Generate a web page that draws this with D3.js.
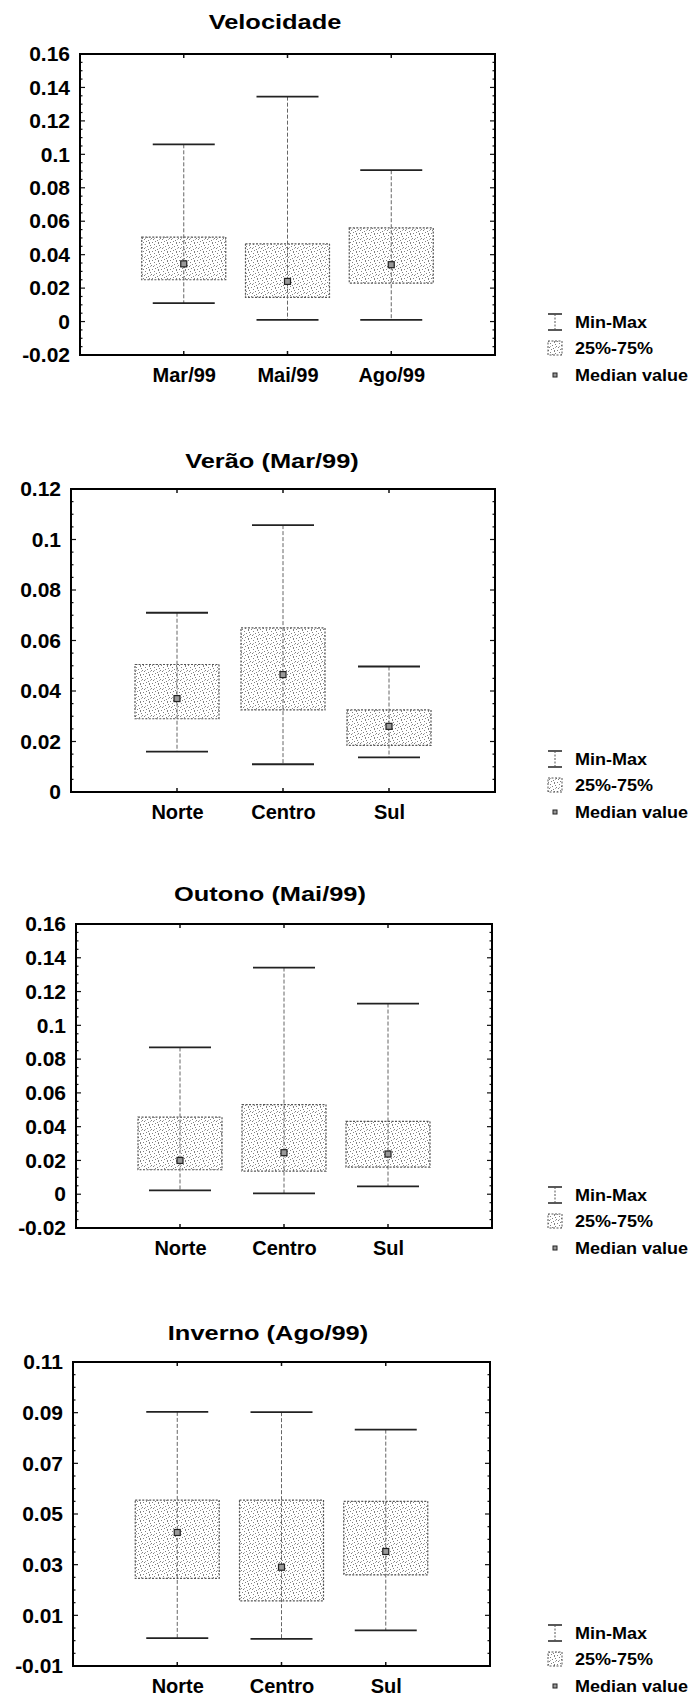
<!DOCTYPE html>
<html>
<head>
<meta charset="utf-8">
<script src="https://cdn.jsdelivr.net/npm/d3@7"></script>
<style>
  html, body { margin: 0; padding: 0; background: #fff; }
  svg { display: block; }
  text { font-family: Arial, "Liberation Sans", sans-serif; fill: #000; }
</style>
</head>
<body>
<svg id="chart" width="694" height="1696"></svg>
<script>
// ---- data ----
const seasonCats = ["Mar/99", "Mai/99", "Ago/99"];
const regionCats = ["Norte", "Centro", "Sul"];

// Velocidade (all stations, by campaign)
const velMin = [0.011, 0.001, 0.001];
const velQ1  = [0.025, 0.0145, 0.023];
const velMed = [0.0345, 0.024, 0.034];
const velQ3  = [0.0505, 0.0465, 0.056];
const velMax = [0.106, 0.1345, 0.0905];

// Verão (Mar/99)
const veraoMin = [0.016, 0.011, 0.0137];
const veraoQ1  = [0.029, 0.0325, 0.0185];
const veraoMed = [0.037, 0.0465, 0.026];
const veraoQ3  = [0.0505, 0.065, 0.0325];
const veraoMax = [0.071, 0.1057, 0.0497];

// Outono (Mai/99)
const outonoMin = [0.0023, 0.0005, 0.0046];
const outonoQ1  = [0.0145, 0.0137, 0.0161];
const outonoMed = [0.02, 0.0246, 0.0238];
const outonoQ3  = [0.0456, 0.0531, 0.0431];
const outonoMax = [0.0869, 0.1342, 0.1129];

// Inverno (Ago/99)
const invernoMin = [0.001, 0.0007, 0.0041];
const invernoQ1  = [0.0246, 0.0157, 0.026];
const invernoMed = [0.0427, 0.029, 0.0352];
const invernoQ3  = [0.0555, 0.0555, 0.055];
const invernoMax = [0.0903, 0.0902, 0.0833];

// y tick labels per panel
const ticksVel     = [-0.02, 0, 0.02, 0.04, 0.06, 0.08, 0.1, 0.12, 0.14, 0.16];
const ticksVerao   = [0, 0.02, 0.04, 0.06, 0.08, 0.1, 0.12];
const ticksOutono  = [-0.02, 0, 0.02, 0.04, 0.06, 0.08, 0.1, 0.12, 0.14, 0.16];
const ticksInverno = [-0.01, 0.01, 0.03, 0.05, 0.07, 0.09, 0.11];

const legendLabels = ["Min-Max", "25%-75%", "Median value"];

function rows(cats, mn, q1, md, q3, mx) {
  return cats.map((c, i) => ({ cat: c, min: mn[i], q1: q1[i], med: md[i], q3: q3[i], max: mx[i] }));
}

const panels = [
  { title: "Velocidade", data: rows(seasonCats, velMin, velQ1, velMed, velQ3, velMax),
    ticks: ticksVel, box: { left: 80, right: 495, top: 54, bottom: 355 }, titleX: 275, titleDy: -25 },
  { title: "Verão (Mar/99)", data: rows(regionCats, veraoMin, veraoQ1, veraoMed, veraoQ3, veraoMax),
    ticks: ticksVerao, box: { left: 71, right: 495, top: 489, bottom: 792 }, titleX: 272, titleDy: -21 },
  { title: "Outono (Mai/99)", data: rows(regionCats, outonoMin, outonoQ1, outonoMed, outonoQ3, outonoMax),
    ticks: ticksOutono, box: { left: 76, right: 492, top: 924, bottom: 1228 }, titleX: 270, titleDy: -23 },
  { title: "Inverno (Ago/99)", data: rows(regionCats, invernoMin, invernoQ1, invernoMed, invernoQ3, invernoMax),
    ticks: ticksInverno, box: { left: 73, right: 490, top: 1362, bottom: 1666 }, titleX: 268, titleDy: -22 }
];

const svg = d3.select("#chart");

// speckled fill used for the interquartile boxes
const defs = svg.append("defs");
const pat = defs.append("pattern")
  .attr("id", "speckle").attr("patternUnits", "userSpaceOnUse")
  .attr("width", 9).attr("height", 9);
pat.append("rect").attr("width", 9).attr("height", 9).attr("fill", "#fff");
[[1,1],[5,0],[3,3],[7,4],[0,5],[4,6],[8,8],[2,7],[6,2],[5,8]].forEach(([x, y]) => {
  pat.append("rect").attr("x", x).attr("y", y).attr("width", 1).attr("height", 1).attr("fill", "#808080");
});
pat.append("path").attr("d", "M1,4 l1,1 M6,6 l1,-1").attr("stroke", "#9a9a9a").attr("stroke-width", 0.8);

function stretchedText(parent, x, y, str, opts) {
  const g = parent.append("g").attr("transform", `translate(${x},${y})`);
  g.append("text")
    .attr("transform", `scale(${opts.sx || 1},1)`)
    .attr("text-anchor", opts.anchor || "start")
    .attr("dominant-baseline", opts.baseline || "auto")
    .style("font-size", opts.size + "px")
    .style("font-weight", opts.weight || "bold")
    .text(str);
  return g;
}

const fmt = v => String(+v.toFixed(3));

panels.forEach(p => {
  const b = p.box;
  const lo = d3.min(p.ticks), hi = d3.max(p.ticks);
  const y = d3.scaleLinear().domain([lo, hi]).range([b.bottom, b.top]);
  const x = d3.scalePoint().domain(p.data.map(d => d.cat)).range([b.left, b.right]).padding(1);
  const g = svg.append("g");

  // title
  stretchedText(g, p.titleX, b.top + p.titleDy, p.title, { size: 20, sx: 1.27, anchor: "middle" });

  // y axis labels (no domain line; frame drawn separately)
  const yAxis = d3.axisLeft(y).tickValues(p.ticks).tickSize(0).tickPadding(10).tickFormat(fmt);
  const ya = g.append("g").attr("transform", `translate(${b.left},0)`).call(yAxis);
  ya.select(".domain").remove();
  ya.selectAll("text").style("font-size", "21px").style("font-weight", "bold")
    .style("font-family", "Arial, 'Liberation Sans', sans-serif").attr("fill", "#000");

  // x axis labels
  const xAxis = d3.axisBottom(x).tickSize(0).tickPadding(13);
  const xa = g.append("g").attr("transform", `translate(0,${b.bottom})`).call(xAxis);
  xa.select(".domain").remove();
  xa.selectAll("text").style("font-size", "20px").style("font-weight", "bold")
    .style("font-family", "Arial, 'Liberation Sans', sans-serif").attr("fill", "#000")
    .attr("transform", function () { return null; });

  // inner tick marks on the frame
  const step = p.ticks[1] - p.ticks[0];
  const minor = d3.range(Math.round((hi - lo) / (step / 4)) + 1).map(i => lo + i * step / 4);
  const tk = g.append("g").attr("stroke", "#111");
  minor.forEach((v, i) => {
    const len = i % 4 === 0 ? 5 : 2.5;
    tk.append("line").attr("x1", b.left).attr("x2", b.left + len).attr("y1", y(v)).attr("y2", y(v)).attr("stroke-width", 1.2);
    tk.append("line").attr("x1", b.right).attr("x2", b.right - len).attr("y1", y(v)).attr("y2", y(v)).attr("stroke-width", 1.2);
  });
  p.data.forEach(d => {
    tk.append("line").attr("x1", x(d.cat)).attr("x2", x(d.cat)).attr("y1", b.bottom).attr("y2", b.bottom - 4).attr("stroke-width", 1.5);
    tk.append("line").attr("x1", x(d.cat)).attr("x2", x(d.cat)).attr("y1", b.top).attr("y2", b.top + 4).attr("stroke-width", 1.5);
  });

  // boxes
  const boxW = 84, capW = 62;
  const marks = g.append("g").selectAll("g").data(p.data).join("g");

  marks.append("rect")
    .attr("x", d => x(d.cat) - boxW / 2).attr("width", boxW)
    .attr("y", d => y(d.q3)).attr("height", d => y(d.q1) - y(d.q3))
    .attr("fill", "url(#speckle)")
    .attr("stroke", "#555").attr("stroke-width", 1.2).attr("stroke-dasharray", "2,1.5");

  marks.append("line")
    .attr("x1", d => x(d.cat)).attr("x2", d => x(d.cat))
    .attr("y1", d => y(d.max)).attr("y2", d => y(d.min))
    .attr("stroke", "#666").attr("stroke-width", 1).attr("stroke-dasharray", "4,2");

  ["max", "min"].forEach(k => {
    marks.append("line")
      .attr("x1", d => x(d.cat) - capW / 2).attr("x2", d => x(d.cat) + capW / 2)
      .attr("y1", d => y(d[k])).attr("y2", d => y(d[k]))
      .attr("stroke", "#222").attr("stroke-width", 1.8);
  });

  marks.append("rect")
    .attr("x", d => x(d.cat) - 3).attr("y", d => y(d.med) - 3)
    .attr("width", 6).attr("height", 6)
    .attr("fill", "#999").attr("stroke", "#222").attr("stroke-width", 1.2);

  // frame
  g.append("rect")
    .attr("x", b.left).attr("y", b.top)
    .attr("width", b.right - b.left).attr("height", b.bottom - b.top)
    .attr("fill", "none").attr("stroke", "#000").attr("stroke-width", 2);

  // legend
  const lg = g.append("g");
  const tx = 575, ix = 555;
  const rowY = [b.bottom - 33, b.bottom - 7, b.bottom + 20];
  // Min-Max glyph
  lg.append("line").attr("x1", ix - 7).attr("x2", ix + 7).attr("y1", rowY[0] - 8).attr("y2", rowY[0] - 8).attr("stroke", "#222").attr("stroke-width", 1.5);
  lg.append("line").attr("x1", ix - 7).attr("x2", ix + 7).attr("y1", rowY[0] + 8).attr("y2", rowY[0] + 8).attr("stroke", "#222").attr("stroke-width", 1.5);
  lg.append("line").attr("x1", ix).attr("x2", ix).attr("y1", rowY[0] - 8).attr("y2", rowY[0] + 8).attr("stroke", "#555").attr("stroke-width", 1).attr("stroke-dasharray", "2,1.5");
  // 25%-75% glyph
  lg.append("rect").attr("x", ix - 7).attr("y", rowY[1] - 7).attr("width", 14).attr("height", 14)
    .attr("fill", "url(#speckle)").attr("stroke", "#555").attr("stroke-width", 1).attr("stroke-dasharray", "2,1.5");
  // median glyph
  lg.append("rect").attr("x", ix - 2).attr("y", rowY[2] - 2).attr("width", 4).attr("height", 4)
    .attr("fill", "#999").attr("stroke", "#222").attr("stroke-width", 1);

  legendLabels.forEach((t, i) => {
    stretchedText(lg, tx, rowY[i], t, { size: 17, sx: 1.06, baseline: "central" });
  });
});
</script>
</body>
</html>
